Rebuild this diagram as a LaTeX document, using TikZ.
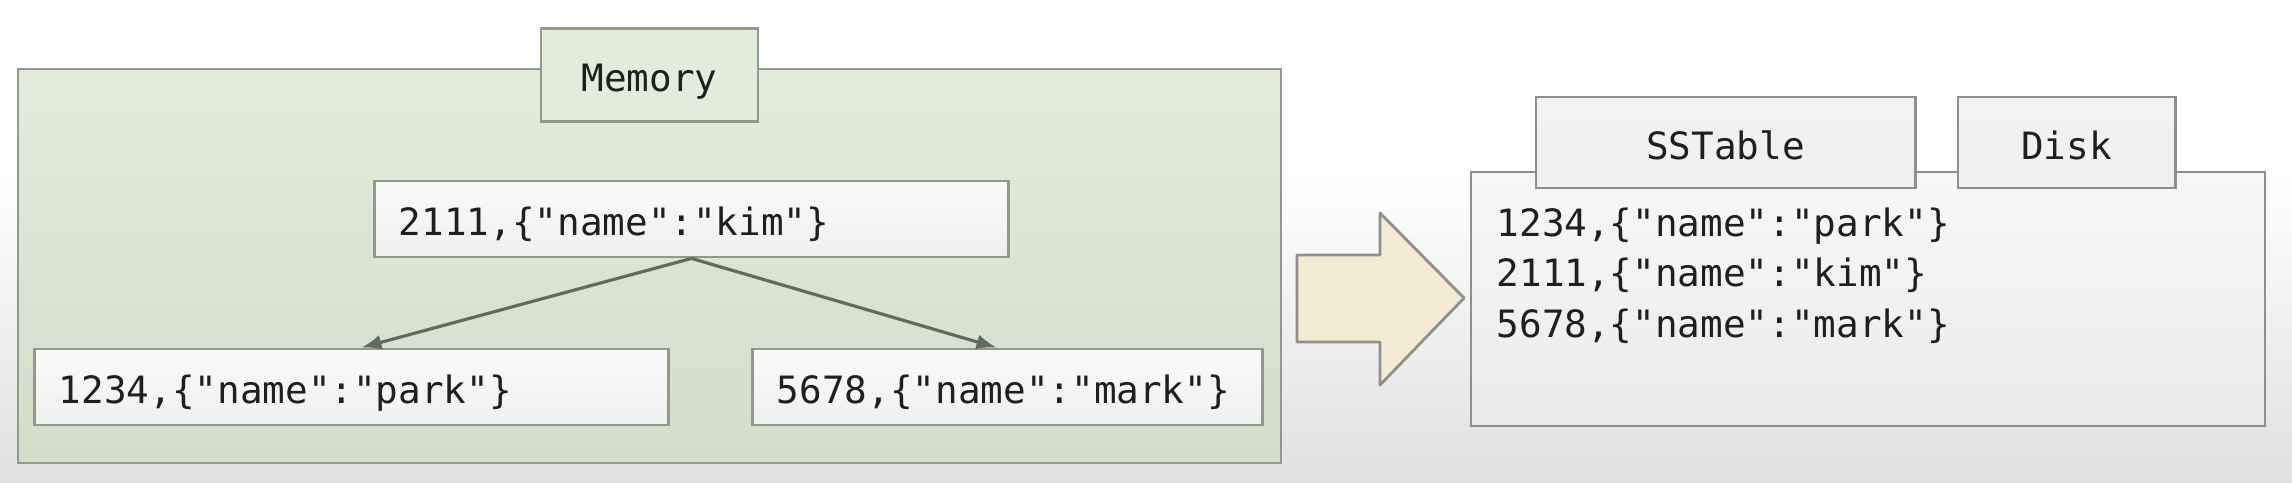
\documentclass[tikz,border=0pt]{standalone}
\usepackage{fontspec}
\setmonofont{DejaVu Sans Mono}
\usetikzlibrary{arrows.meta}

\definecolor{memtop}{HTML}{E3EBDA}
\definecolor{membot}{HTML}{D3DDCA}
\definecolor{memline}{HTML}{8E9B88}
\definecolor{boxline}{HTML}{8F8F8F}
\definecolor{linkcol}{HTML}{5E6D59}
\definecolor{movefill}{HTML}{F4ECD2}

\begin{document}
\begin{tikzpicture}[x=0.01cm,y=-0.01cm,
    every node/.style={font=\ttfamily\fontsize{10.7}{14.4}\selectfont, text=black!88},
    tab/.style={draw=#1, line width=0.8pt, top color=white!90!gray, bottom color=white!88!gray, minimum height=0.93cm, inner sep=0pt, text height=10.5pt, text depth=1pt},
    row/.style={draw=memline, line width=0.8pt, top color=white!96!gray, bottom color=white!88!gray, minimum height=0.76cm, inner xsep=0.24cm, inner ysep=0pt, align=left, text height=10.5pt, text depth=1pt},
    link/.style={draw=linkcol, line width=0.9pt, -{Latex[length=0.2cm,width=0.15cm]}}]
    % background
    \fill[white] (0,0) rectangle (2292,482);
    \shade[top color=white, bottom color=black!12] (0,170) rectangle (2292,482);
    % memory side
    \filldraw[draw=memline, line width=0.8pt, top color=memtop, bottom color=membot] (18,69) rectangle (1281,463);
    \node[tab=memline, top color=memtop, bottom color=memtop, minimum width=2.17cm] (memory) at (649.5,75) {Memory};
    \node[row, text width=5.85cm] (kim) at (691.5,219) {2111,\{"name":"kim"\}};
    \node[row, text width=5.85cm] (park) at (351.5,387) {1234,\{"name":"park"\}};
    \node[row, text width=4.61cm] (mark) at (1007.5,387) {5678,\{"name":"mark"\}};
    \draw[link] (kim.south) -- ([xshift=0.1cm]park.north);
    \draw[link] (kim.south) -- ([xshift=-0.11cm]mark.north);
    % flush arrow
    \filldraw[draw=boxline, line width=0.8pt, fill=movefill, line join=round] (1297,255) -- (1380,255) -- (1380,213) -- (1464,298) -- (1380,385) -- (1380,342) -- (1297,342) -- cycle;
    % disk side
    \filldraw[draw=boxline, line width=0.8pt, top color=white!94!gray, bottom color=white!84!gray] (1471,172) rectangle (2265,426);
    \node[tab=boxline, minimum width=3.79cm, minimum height=0.91cm] (sstable) at (1725.5,142.5) {SSTable};
    \node[tab=boxline, minimum width=2.17cm, minimum height=0.91cm] (disk) at (2066.5,142.5) {Disk};
    \node[anchor=north west, inner sep=0pt, align=left] (rows) at (1496,207) {1234,\{"name":"park"\}\\2111,\{"name":"kim"\}\\5678,\{"name":"mark"\}};
\end{tikzpicture}
\end{document}
